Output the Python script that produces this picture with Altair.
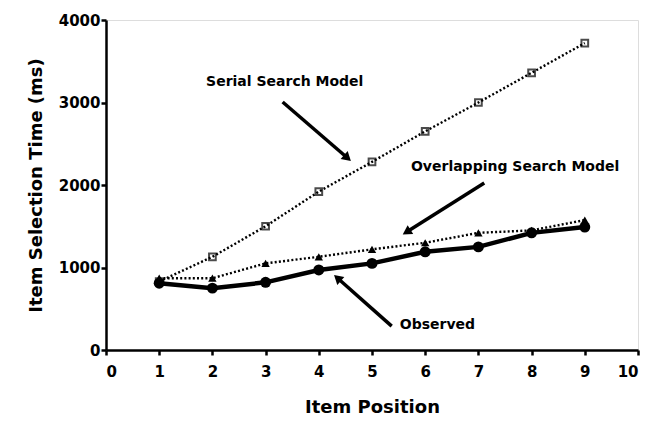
import altair as alt
import pandas as pd

positions = [1, 2, 3, 4, 5, 6, 7, 8, 9]
serial = [830, 1130, 1500, 1920, 2280, 2650, 3000, 3360, 3720]
overlapping = [870, 870, 1050, 1130, 1220, 1300, 1420, 1450, 1575]
observed = [810, 750, 820, 970, 1050, 1190, 1250, 1420, 1490]

x_ticks = list(range(0, 11))
y_ticks = [0, 1000, 2000, 3000, 4000]

labels = ["Serial Search Model", "Overlapping Search Model", "Observed"]
label_x = [3.36, 7.69, 6.23]
label_y = [3250, 2218, 303]
arrow_x0 = [3.32, 7.11, 5.37]
arrow_y0 = [3006, 2024, 290]
arrow_x1 = [4.54, 5.65, 4.35]
arrow_y1 = [2327, 1430, 873]
arrow_angle = [132, 238, 312]

FONT = "DejaVu Sans"

df_s = pd.DataFrame({"x": positions, "y": serial})
df_o = pd.DataFrame({"x": positions, "y": overlapping})
df_b = pd.DataFrame({"x": positions, "y": observed})
df_t = pd.DataFrame({"label": labels, "x": label_x, "y": label_y})
df_a = pd.DataFrame({"x": arrow_x0, "y": arrow_y0, "x2": arrow_x1, "y2": arrow_y1, "angle": arrow_angle})

xs = alt.Scale(domain=[0, 10], nice=False)
ys = alt.Scale(domain=[0, 4000], nice=False)

X = alt.X("x:Q", scale=xs, axis=alt.Axis(
    title="Item Position", values=x_ticks, format="d", grid=False,
    domainColor="black", domainWidth=2.5, tickColor="black", tickWidth=2.5, tickSize=5,
    labelFont=FONT, labelFontWeight="bold", labelFontSize=15, labelColor="black", labelPadding=9,
    titleFont=FONT, titleFontWeight="bold", titleFontSize=18, titleColor="black", titlePadding=19))
Y = alt.Y("y:Q", scale=ys, axis=alt.Axis(
    title="Item Selection Time (ms)", values=y_ticks, format="d", grid=False,
    domainColor="black", domainWidth=2.5, tickColor="black", tickWidth=2.5, tickSize=5,
    labelFont=FONT, labelFontWeight="bold", labelFontSize=15, labelColor="black", labelPadding=1,
    titleFont=FONT, titleFontWeight="bold", titleFontSize=18, titleColor="black", titlePadding=13))

serial_line = alt.Chart(df_s).mark_line(color="black", strokeWidth=2.4, strokeDash=[2, 2.2]).encode(x=X, y=Y)
serial_pts = alt.Chart(df_s).mark_point(shape="square", filled=False, color="black", size=45, strokeWidth=2).encode(x="x:Q", y="y:Q")

over_line = alt.Chart(df_o).mark_line(color="black", strokeWidth=2.4, strokeDash=[2, 2.2]).encode(x="x:Q", y="y:Q")
over_pts = alt.Chart(df_o).mark_point(shape="triangle-up", filled=True, color="black", size=70, opacity=1).encode(x="x:Q", y="y:Q")

obs_line = alt.Chart(df_b).mark_line(color="black", strokeWidth=4.5).encode(x="x:Q", y="y:Q")
obs_pts = alt.Chart(df_b).mark_point(shape="circle", filled=True, color="black", size=120, opacity=1).encode(x="x:Q", y="y:Q")

texts = alt.Chart(df_t).mark_text(font=FONT, fontWeight="bold", fontSize=14, color="black").encode(
    x="x:Q", y="y:Q", text="label:N")

arrows = alt.Chart(df_a).mark_rule(color="black", strokeWidth=3.5).encode(x="x:Q", y="y:Q", x2="x2:Q", y2="y2:Q")
heads = alt.Chart(df_a).mark_point(shape="triangle-up", filled=True, color="black", size=110, opacity=1).encode(
    x="x2:Q", y="y2:Q", angle=alt.Angle("angle:Q", scale=None))

chart = alt.layer(
    serial_line, over_line, obs_line, serial_pts, over_pts, obs_pts, texts, arrows, heads
).properties(
    width=532, height=330,
    autosize=alt.AutoSizeParams(type="none"),
    padding={"left": 98, "top": 12, "right": 4, "bottom": 69},
).configure_view(stroke=None).configure(background="white")

chart.save("out.html", embed_options={"renderer": "svg", "actions": False})
